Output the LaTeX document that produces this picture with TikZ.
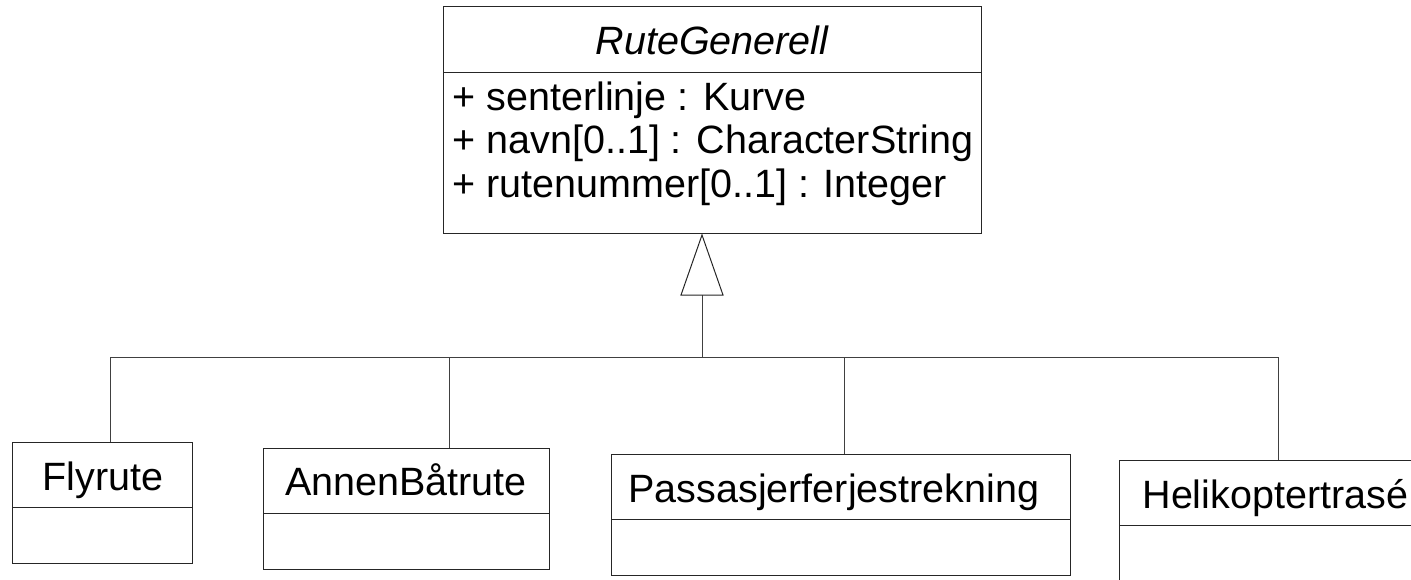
\documentclass[tikz,border=0pt]{standalone}
\usepackage{fontspec}
\setmainfont{Liberation Sans}
\begin{document}
\begin{tikzpicture}[x=1pt,y=-1pt,line width=1pt,
  cls/.style={draw=black!85,anchor=north west,inner sep=0pt},
  sep/.style={draw=black!85},
  txt/.style={inner sep=0pt,font=\fontsize{39.5}{44}\selectfont},
  conn/.style={draw=black!75}]
\useasboundingbox (0,0) rectangle (1411,579);
\clip (0,0) rectangle (1411,579);
% superclass
\node[cls,minimum width=538pt,minimum height=227pt] (top) at (443,6) {};
\draw[sep] (443,72) -- (981,72);
\node[txt,anchor=base,font=\fontsize{39.5}{44}\selectfont\itshape] (ttl) at (712,54) {RuteGenerell};
\node[txt,anchor=base west] (a1) at (452,110) {+ senterlinje : Kurve};
\node[txt,anchor=base west] (a2) at (452,153) {+ navn[0..1] : CharacterString};
\node[txt,anchor=base west] (a3) at (452,197) {+ rutenummer[0..1] : Integer};
% subclasses
\node[cls,minimum width=180pt,minimum height=121pt] (fly) at (12,442) {};
\draw[sep] (12,507) -- (192,507);
\node[txt,anchor=base] (flyt) at (103,490) {Flyrute};
\node[cls,minimum width=286pt,minimum height=121pt] (annen) at (263,448) {};
\draw[sep] (263,513) -- (549,513);
\node[txt,anchor=base] (annent) at (406,495) {AnnenBåtrute};
\node[cls,minimum width=459pt,minimum height=121pt] (pass) at (611,454) {};
\draw[sep] (611,519) -- (1070,519);
\node[txt,anchor=base west] (passt) at (628,502) {Passasjerferjestrekning};
\node[cls,minimum width=330pt,minimum height=140pt] (heli) at (1119,460) {};
\draw[sep] (1119,525) -- (1449,525);
\node[txt,anchor=base west] (helit) at (1142,508) {Helikoptertrasé};
% generalization
\coordinate (tip) at (702,235);
\coordinate (tb) at (702,295);
\coordinate (bus) at (702,357);
\coordinate (b1) at (110,357);
\coordinate (b2) at (449,357);
\coordinate (b3) at (844,357);
\coordinate (b4) at (1278,357);
\draw[conn] (b1) -- (b4);
\draw[conn] (tb) -- (bus);
\draw[draw=black!85,fill=white] (tip) -- (681,295) -- (723,295) -- cycle;
\draw[conn] (b1) -- (b1 |- fly.north);
\draw[conn] (b2) -- (b2 |- annen.north);
\draw[conn] (b3) -- (b3 |- pass.north);
\draw[conn] (b4) -- (b4 |- heli.north);
\end{tikzpicture}
\end{document}
